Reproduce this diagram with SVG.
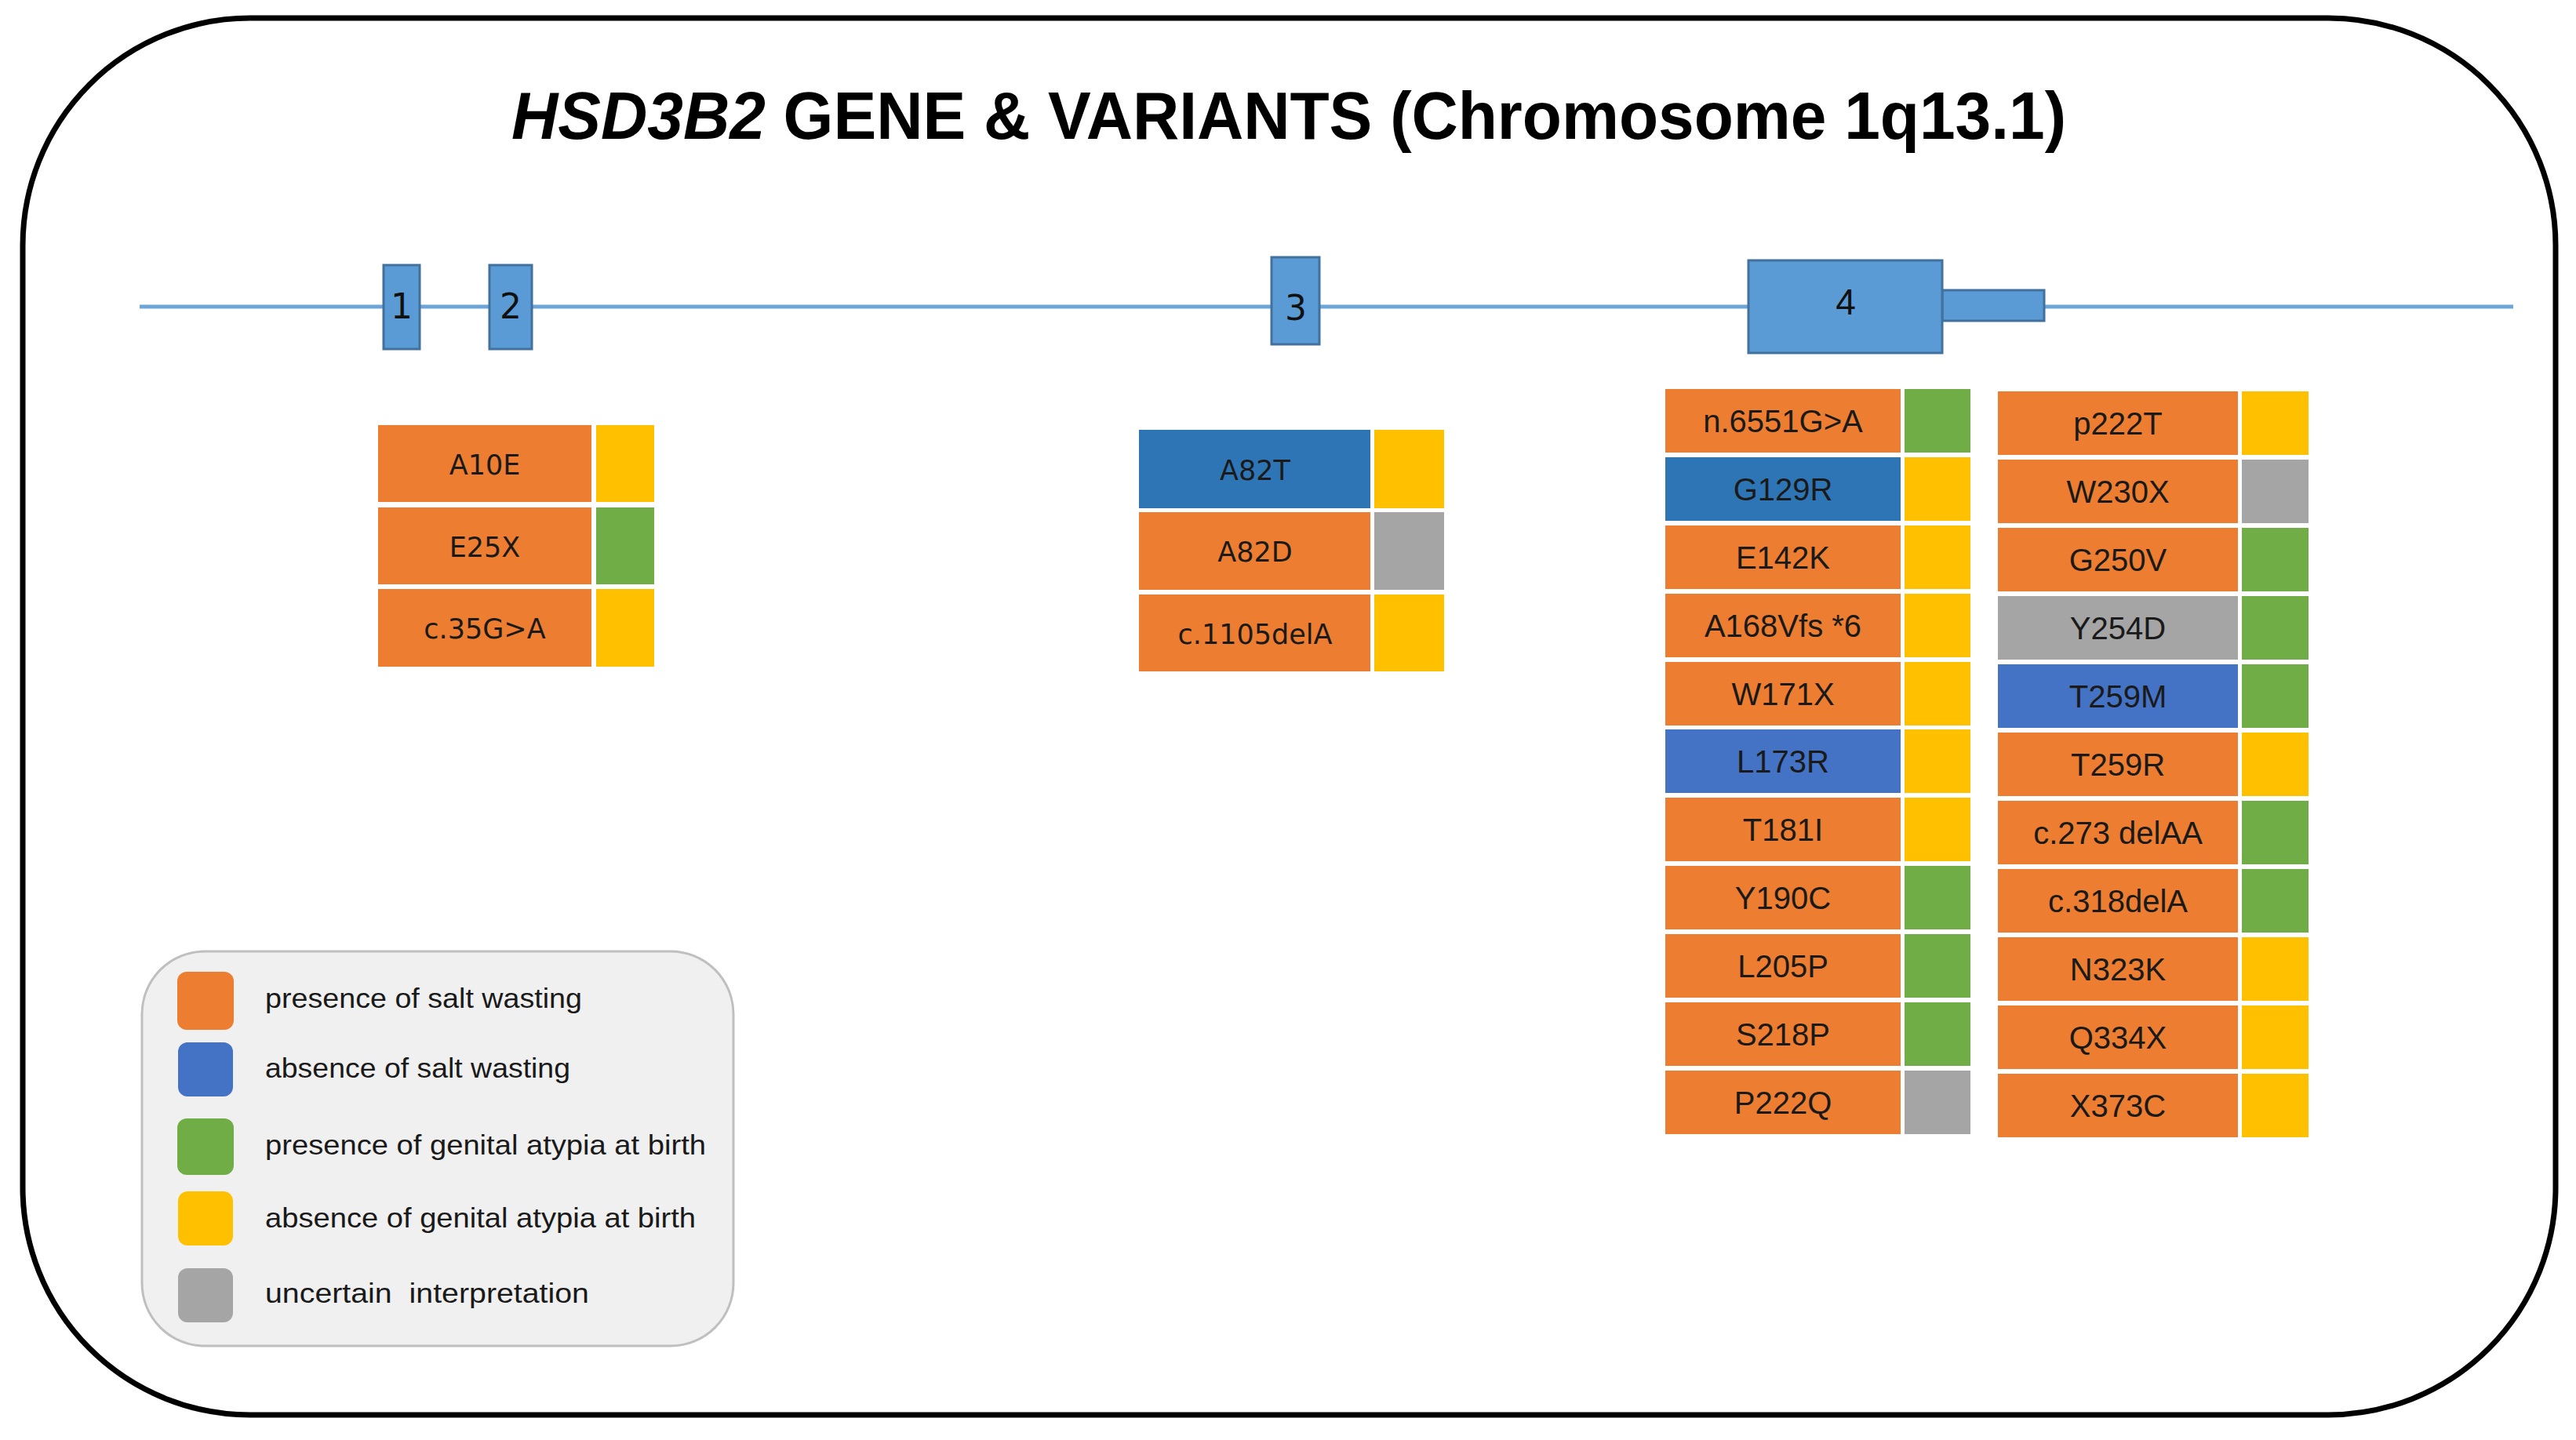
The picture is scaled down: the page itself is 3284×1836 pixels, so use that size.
<svg xmlns="http://www.w3.org/2000/svg" width="3284" height="1836" viewBox="0 0 3284 1836">
<style>
.frame{fill:#fff;stroke:#000;stroke-width:7}
.title{font-family:"Liberation Sans",Arial,sans-serif;font-weight:bold;font-size:85px;fill:#000}
.gline{stroke:#6fa6da;stroke-width:5;fill:none}
.exon{fill:#5b9bd5;stroke:#41719c;stroke-width:3}
.enum{font-family:"DejaVu Sans",sans-serif;font-size:44px;fill:#111;text-anchor:middle}
.enum4{font-family:"Liberation Sans",Arial,sans-serif;font-size:46px;fill:#111;text-anchor:middle}
.o{fill:#ed7d31}.y{fill:#ffc000}.g{fill:#70ad47}.gr{fill:#a5a5a5}.b{fill:#4472c4}.db{fill:#2e75b6}
.v1{font-family:"DejaVu Sans",sans-serif;font-size:35px;fill:#1a1a1a;text-anchor:middle}
.v4{font-family:"Liberation Sans",Arial,sans-serif;font-size:40px;fill:#1a1a1a;text-anchor:middle}
.legbox{fill:#f0f0f0;stroke:#bfbfbf;stroke-width:3}
.leg{font-family:"Liberation Sans",Arial,sans-serif;font-size:35px;fill:#1a1a1a}
</style>
<rect class="frame" x="29" y="23" width="3229" height="1781" rx="290" ry="290"/>
<text class="title" x="652" y="177" textLength="1982" lengthAdjust="spacingAndGlyphs"><tspan font-style="italic">HSD3B2</tspan> GENE &amp; VARIANTS (Chromosome 1q13.1)</text>

<g id="connectors">
<line class="gline" x1="178" y1="391" x2="3204" y2="391"/>
</g>

<g id="exon1"><rect class="exon" x="489" y="338" width="46" height="107"/><text class="enum" x="512" y="406">1</text></g>
<g id="exon2"><rect class="exon" x="624" y="338" width="54" height="107"/><text class="enum" x="651" y="406">2</text></g>
<g id="exon3"><rect class="exon" x="1621" y="328" width="61" height="111"/><text class="enum" x="1652" y="408">3</text></g>
<g id="exon4"><rect class="exon" x="2476" y="370" width="130" height="39"/><rect class="exon" x="2229" y="332" width="247" height="118"/><text class="enum4" x="2353" y="401">4</text></g>

<g id="variants-exon1">
<rect class="o" x="482" y="542" width="272" height="98"/><rect class="y" x="760" y="542" width="74" height="98"/><text class="v1" x="618" y="605">A10E</text>
<rect class="o" x="482" y="647" width="272" height="98"/><rect class="g" x="760" y="647" width="74" height="98"/><text class="v1" x="618" y="710">E25X</text>
<rect class="o" x="482" y="751" width="272" height="99"/><rect class="y" x="760" y="751" width="74" height="99"/><text class="v1" x="618" y="814">c.35G&gt;A</text>
</g>

<g id="variants-exon3">
<rect class="db" x="1452" y="548" width="295" height="100"/><rect class="y" x="1752" y="548" width="89" height="100"/><text class="v1" x="1600" y="612">A82T</text>
<rect class="o" x="1452" y="653" width="295" height="99"/><rect class="gr" x="1752" y="653" width="89" height="99"/><text class="v1" x="1600" y="716">A82D</text>
<rect class="o" x="1452" y="758" width="295" height="98"/><rect class="y" x="1752" y="758" width="89" height="98"/><text class="v1" x="1600" y="821">c.1105delA</text>
</g>

<g id="variants-exon4-left">
<rect class="o" x="2123" y="496" width="300" height="81"/><rect class="g" x="2428" y="496" width="84" height="81"/><text class="v4" x="2273" y="551">n.6551G&gt;A</text>
<rect class="db" x="2123" y="583" width="300" height="81"/><rect class="y" x="2428" y="583" width="84" height="81"/><text class="v4" x="2273" y="638">G129R</text>
<rect class="o" x="2123" y="670" width="300" height="81"/><rect class="y" x="2428" y="670" width="84" height="81"/><text class="v4" x="2273" y="725">E142K</text>
<rect class="o" x="2123" y="757" width="300" height="81"/><rect class="y" x="2428" y="757" width="84" height="81"/><text class="v4" x="2273" y="812">A168Vfs *6</text>
<rect class="o" x="2123" y="844" width="300" height="81"/><rect class="y" x="2428" y="844" width="84" height="81"/><text class="v4" x="2273" y="899">W171X</text>
<rect class="b" x="2123" y="930" width="300" height="81"/><rect class="y" x="2428" y="930" width="84" height="81"/><text class="v4" x="2273" y="985">L173R</text>
<rect class="o" x="2123" y="1017" width="300" height="81"/><rect class="y" x="2428" y="1017" width="84" height="81"/><text class="v4" x="2273" y="1072">T181I</text>
<rect class="o" x="2123" y="1104" width="300" height="81"/><rect class="g" x="2428" y="1104" width="84" height="81"/><text class="v4" x="2273" y="1159">Y190C</text>
<rect class="o" x="2123" y="1191" width="300" height="81"/><rect class="g" x="2428" y="1191" width="84" height="81"/><text class="v4" x="2273" y="1246">L205P</text>
<rect class="o" x="2123" y="1278" width="300" height="81"/><rect class="g" x="2428" y="1278" width="84" height="81"/><text class="v4" x="2273" y="1333">S218P</text>
<rect class="o" x="2123" y="1365" width="300" height="81"/><rect class="gr" x="2428" y="1365" width="84" height="81"/><text class="v4" x="2273" y="1420">P222Q</text>
</g>

<g id="variants-exon4-right">
<rect class="o" x="2547" y="499" width="306" height="81"/><rect class="y" x="2858" y="499" width="85" height="81"/><text class="v4" x="2700" y="554">p222T</text>
<rect class="o" x="2547" y="586" width="306" height="81"/><rect class="gr" x="2858" y="586" width="85" height="81"/><text class="v4" x="2700" y="641">W230X</text>
<rect class="o" x="2547" y="673" width="306" height="81"/><rect class="g" x="2858" y="673" width="85" height="81"/><text class="v4" x="2700" y="728">G250V</text>
<rect class="gr" x="2547" y="760" width="306" height="81"/><rect class="g" x="2858" y="760" width="85" height="81"/><text class="v4" x="2700" y="815" fill="#333">Y254D</text>
<rect class="b" x="2547" y="847" width="306" height="81"/><rect class="g" x="2858" y="847" width="85" height="81"/><text class="v4" x="2700" y="902">T259M</text>
<rect class="o" x="2547" y="934" width="306" height="81"/><rect class="y" x="2858" y="934" width="85" height="81"/><text class="v4" x="2700" y="989">T259R</text>
<rect class="o" x="2547" y="1021" width="306" height="81"/><rect class="g" x="2858" y="1021" width="85" height="81"/><text class="v4" x="2700" y="1076">c.273 delAA</text>
<rect class="o" x="2547" y="1108" width="306" height="81"/><rect class="g" x="2858" y="1108" width="85" height="81"/><text class="v4" x="2700" y="1163">c.318delA</text>
<rect class="o" x="2547" y="1195" width="306" height="81"/><rect class="y" x="2858" y="1195" width="85" height="81"/><text class="v4" x="2700" y="1250">N323K</text>
<rect class="o" x="2547" y="1282" width="306" height="81"/><rect class="y" x="2858" y="1282" width="85" height="81"/><text class="v4" x="2700" y="1337">Q334X</text>
<rect class="o" x="2547" y="1369" width="306" height="81"/><rect class="y" x="2858" y="1369" width="85" height="81"/><text class="v4" x="2700" y="1424">X373C</text>
</g>

<g id="legend">
<rect class="legbox" x="181" y="1213" width="754" height="503" rx="80" ry="80"/>
<rect class="o" x="226" y="1239" width="72" height="74" rx="12"/>
<rect class="b" x="227" y="1329" width="70" height="69" rx="12"/>
<rect class="g" x="226" y="1426" width="72" height="72" rx="12"/>
<rect class="y" x="227" y="1519" width="70" height="69" rx="12"/>
<rect class="gr" x="227" y="1617" width="70" height="69" rx="12"/>
<text class="leg" x="338" y="1285" textLength="404" lengthAdjust="spacingAndGlyphs">presence of salt wasting</text>
<text class="leg" x="338" y="1374" textLength="389" lengthAdjust="spacingAndGlyphs">absence of salt wasting</text>
<text class="leg" x="338" y="1472" textLength="562" lengthAdjust="spacingAndGlyphs">presence of genital atypia at birth</text>
<text class="leg" x="338" y="1565" textLength="549" lengthAdjust="spacingAndGlyphs">absence of genital atypia at birth</text>
<text class="leg" x="338" y="1661" textLength="413" lengthAdjust="spacingAndGlyphs" xml:space="preserve">uncertain  interpretation</text>
</g>
</svg>
